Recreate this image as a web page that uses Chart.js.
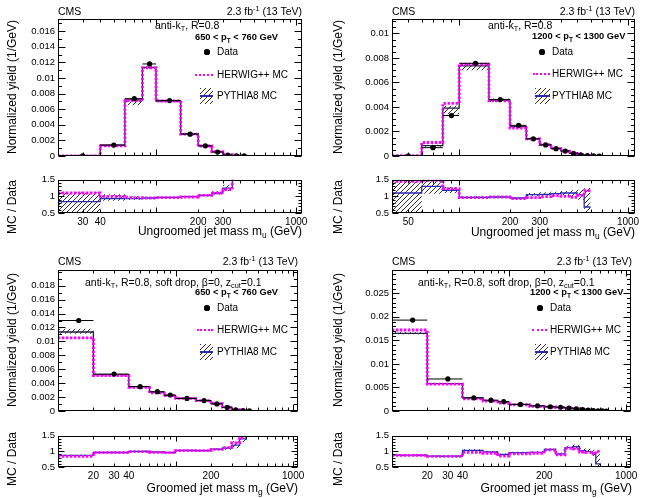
<!DOCTYPE html>
<html lang="en">
<head>
<meta charset="UTF-8">
<title>Jet mass distributions</title>
<script src="https://cdn.jsdelivr.net/npm/chart.js"></script>
<style>
    body { margin: 0; background: #fff; font-family: "Liberation Sans", Arial, Helvetica, sans-serif; }
    #page { position: relative; width: 645px; height: 498px; overflow: hidden; background: #fff; }
    canvas { position: absolute; }
    .t { position: absolute; white-space: nowrap; line-height: 1; color: #000; }
    .t sub { font-size: 70%; vertical-align: -0.35em; line-height: 0; }
    .t sup { font-size: 70%; vertical-align: 0.55em; line-height: 0; }
    .sym { position: absolute; }
</style>
</head>
<body>
<div id="page"></div>
<script>
    // ---- panel 1 : ungroomed, 650 < pT < 760 GeV
    const p1Edges = [20, 40, 60, 80, 100, 150, 200, 250, 300, 350, 400, 450];
    const p1Data = [0.00001, 0.0014, 0.00735, 0.0118, 0.0071, 0.0028, 0.0013, 0.0005, 0.00012, 0.00002, 0.00001];
    const p1DataErr = [0.00001, 0.00006, 0.00012, 0.00018, 0.0001, 0.00006, 0.00004, 0.00003, 0.00002, 0.00001, 0.00001];
    const p1Herwig = [0.00001, 0.0013, 0.0071, 0.0113, 0.00705, 0.0028, 0.00128, 0.00055, 0.00016, 0.00004, 0];
    const p1Pythia = [0.00001, 0.0014, 0.0072, 0.01135, 0.00705, 0.00285, 0.0013, 0.00057, 0.0002, 0.00005, 0];
    const p1BandLo = [0, 0.00122, 0.0065, 0.0112, 0.0069, 0.0027, 0.00124, 0.00053, 0.00017, 0.00003, 0];
    const p1BandHi = [0.00002, 0.00142, 0.00728, 0.01155, 0.0072, 0.0029, 0.00136, 0.0006, 0.00023, 0.00006, 0];
    const p1RatioHerwig = [1.1, 1.0, 0.96, 0.95, 0.96, 0.98, 1.03, 1.1, 1.2, 3];
    const p1RatioPythia = [0.84, 0.93, 0.93, 0.95, 0.97, 0.99, 1.03, 1.1, 1.25, 3];
    const p1RatioLo = [0.4, 0.87, 0.9, 0.93, 0.95, 0.97, 1.0, 1.05, 1.15, 3];
    const p1RatioHi = [1.12, 1.06, 1.0, 0.98, 0.99, 1.01, 1.06, 1.15, 1.35, 3];
    const p1YTicks = [0, 0.002, 0.004, 0.006, 0.008, 0.01, 0.012, 0.014, 0.016];
    const p1XLabels = [30, 40, 200, 300, 1000];

    // ---- panel 2 : ungroomed, 1200 < pT < 1300 GeV
    const p2Edges = [40, 60, 80, 100, 150, 200, 250, 300, 350, 400, 450, 500, 550, 600, 650, 700];
    const p2Data = [0.00002, 0.00068, 0.0033, 0.00756, 0.0046, 0.0025, 0.0014, 0.0009, 0.0006, 0.0004, 0.00022, 0.0001, 0.00004, 0.00001, 0];
    const p2DataErr = [0.00002, 0.00006, 0.00012, 0.00015, 0.0001, 0.00007, 0.00005, 0.00004, 0.00003, 0.00003, 0.00002, 0.00002, 0.00001, 0.00001, 0];
    const p2Herwig = [0.00002, 0.0011, 0.0043, 0.0075, 0.0045, 0.00227, 0.0014, 0.00092, 0.0006, 0.0004, 0.00022, 0.00011, 0.00005, 0.00001, 0];
    const p2Pythia = [0.00002, 0.00085, 0.0039, 0.00735, 0.00455, 0.0024, 0.0014, 0.00093, 0.00063, 0.00043, 0.00024, 0.0001, 0.00003, 0.00001, 0];
    const p2BandLo = [0, 0.00075, 0.0034, 0.007, 0.0044, 0.00232, 0.00133, 0.00088, 0.00059, 0.0004, 0.00022, 0.00009, 0.00002, 0, 0];
    const p2BandHi = [0.00004, 0.00092, 0.0041, 0.00755, 0.0047, 0.00248, 0.00147, 0.00098, 0.00067, 0.00046, 0.00027, 0.00012, 0.00004, 0.00002, 0];
    const p2RatioHerwig = [1.45, 1.48, 1.23, 0.96, 0.98, 0.93, 0.96, 0.99, 1.02, 1.0, 0.97, 1.03, 1.17];
    const p2RatioPythia = [1.1, 1.3, 1.18, 0.97, 0.98, 0.95, 1.05, 1.06, 1.08, 1.1, 1.1, 1.05, 0.68];
    const p2RatioLo = [0.4, 1.08, 1.1, 0.94, 0.96, 0.92, 1.0, 1.0, 1.02, 1.03, 1.0, 0.9, 0.5];
    const p2RatioHi = [1.6, 1.55, 1.28, 1.0, 1.0, 0.98, 1.1, 1.12, 1.14, 1.16, 1.18, 1.2, 1.25];
    const p2YTicks = [0, 0.002, 0.004, 0.006, 0.008, 0.01];
    const p2XLabels = [50, 200, 300, 1000];

    // ---- panel 3 : groomed, 650 < pT < 760 GeV
    const p3Edges = [10, 20, 40, 60, 80, 100, 150, 200, 250, 300, 350, 400, 450];
    const p3Data = [0.013, 0.0053, 0.0035, 0.00277, 0.0023, 0.0018, 0.0015, 0.00102, 0.00051, 0.00015, 0.00004, 0.00001];
    const p3DataErr = [0.00008, 0.00006, 0.00005, 0.00005, 0.00004, 0.00003, 0.00003, 0.00003, 0.00002, 0.00001, 0.00001, 0.00001];
    const p3Herwig = [0.0105, 0.0051, 0.0034, 0.0026, 0.0022, 0.00182, 0.00148, 0.00106, 0.00055, 0.0002, 0.00006, 0];
    const p3Pythia = [0.01135, 0.00523, 0.0035, 0.0027, 0.0022, 0.00184, 0.0015, 0.00108, 0.00055, 0.00018, 0.00005, 0];
    const p3BandLo = [0.0111, 0.0051, 0.00342, 0.00264, 0.00214, 0.0018, 0.00146, 0.00104, 0.00051, 0.00015, 0.00003, 0];
    const p3BandHi = [0.0118, 0.00535, 0.00358, 0.00276, 0.00226, 0.00188, 0.00154, 0.00112, 0.00059, 0.00022, 0.00007, 0];
    const p3RatioHerwig = [0.84, 0.96, 0.99, 0.97, 0.96, 1.02, 1.02, 1.06, 1.12, 1.27, 1.45];
    const p3RatioPythia = [0.87, 0.97, 1.0, 0.98, 0.96, 1.03, 1.02, 1.07, 1.1, 1.2, 1.4];
    const p3RatioLo = [0.85, 0.95, 0.98, 0.96, 0.94, 1.01, 1.0, 1.05, 1.05, 1.1, 1.3];
    const p3RatioHi = [0.89, 0.99, 1.02, 1.0, 0.98, 1.05, 1.04, 1.09, 1.15, 1.32, 1.6];
    const p3YTicks = [0, 0.002, 0.004, 0.006, 0.008, 0.01, 0.012, 0.014, 0.016, 0.018];
    const p3XLabels = [20, 30, 40, 200, 1000];

    // ---- panel 4 : groomed, 1200 < pT < 1300 GeV
    const p4Edges = [10, 20, 40, 60, 80, 100, 150, 200, 250, 300, 350, 400, 450, 500, 550, 600, 650, 700];
    const p4Data = [0.0193, 0.0068, 0.0028, 0.0023, 0.002, 0.0014, 0.0011, 0.0009, 0.0008, 0.0006, 0.00045, 0.0003, 0.0002, 0.0001, 0.00005, 0.00001, 0];
    const p4DataErr = [0.0003, 0.00012, 0.00008, 0.00007, 0.00007, 0.00005, 0.00004, 0.00004, 0.00003, 0.00003, 0.00002, 0.00002, 0.00002, 0.00001, 0.00001, 0.00001, 0];
    const p4Herwig = [0.0172, 0.0057, 0.0026, 0.0021, 0.0017, 0.0013, 0.001, 0.00085, 0.0007, 0.00062, 0.00048, 0.0003, 0.0002, 0.0001, 0.00004, 0.00001, 0];
    const p4Pythia = [0.0165, 0.0058, 0.0028, 0.0022, 0.0018, 0.0014, 0.0011, 0.0009, 0.00075, 0.00068, 0.0005, 0.00032, 0.00021, 0.0001, 0.00003, 0.00001, 0];
    const p4BandLo = [0.0163, 0.0057, 0.00273, 0.00214, 0.00175, 0.00136, 0.00107, 0.00087, 0.00072, 0.00065, 0.00047, 0.0003, 0.00019, 0.00009, 0.00002, 0, 0];
    const p4BandHi = [0.0167, 0.0059, 0.00287, 0.00226, 0.00185, 0.00144, 0.00113, 0.00093, 0.00078, 0.00071, 0.00053, 0.00034, 0.00023, 0.00011, 0.00004, 0.00002, 0];
    const p4RatioHerwig = [0.87, 0.84, 0.97, 0.94, 0.85, 0.92, 0.94, 1.05, 0.89, 1.1, 1.08, 0.98, 0.97, 0.92, 1.0];
    const p4RatioPythia = [0.88, 0.85, 1.03, 0.98, 0.9, 0.96, 0.97, 1.06, 0.92, 1.12, 1.15, 1.02, 1.0, 0.95, 0.6];
    const p4RatioLo = [0.86, 0.83, 1.0, 0.95, 0.87, 0.93, 0.94, 1.03, 0.89, 1.07, 1.08, 0.95, 0.92, 0.85, 0.5];
    const p4RatioHi = [0.9, 0.87, 1.07, 1.01, 0.93, 0.99, 1.0, 1.09, 0.96, 1.18, 1.22, 1.1, 1.08, 1.05, 1.0];
    const p4YTicks = [0, 0.005, 0.01, 0.015, 0.02, 0.025];
    const p4XLabels = [20, 30, 40, 200, 1000];

    const ratioYTicks = [0.5, 1, 1.5];

    const Y_AXIS_W = 50, PAD_T = 8, PAD_B = 8, PAD_R = 12, X_AXIS_H = 16;
    const FONT = '"Liberation Sans", Arial, Helvetica, sans-serif';
    const MAGENTA = '#ff00ff';
    const page = document.getElementById('page');

    function fmt(v) { return String(+v.toFixed(4)); }

    // step histogram points: bin i value placed at its left edge, plus a closing point
    function histPts(edges, vals) {
        const pts = vals.map((v, i) => ({ x: edges[i], y: v }));
        pts.push({ x: edges[vals.length], y: vals[vals.length - 1] });
        return pts;
    }
    function centerPts(edges, vals) {
        return vals.map((v, i) => ({ x: (edges[i] + edges[i + 1]) / 2, y: v }));
    }
    function errPts(edges, vals, errs) {
        const pts = [];
        vals.forEach((v, i) => {
            const c = (edges[i] + edges[i + 1]) / 2;
            pts.push({ x: edges[i], y: v }, { x: edges[i + 1], y: v }, { x: edges[i + 1], y: null });
            pts.push({ x: c, y: v - errs[i] }, { x: c, y: v + errs[i] }, { x: c, y: null });
        });
        return pts;
    }

    function hatch(color) {
        const c = document.createElement('canvas');
        c.width = c.height = 5;
        const g = c.getContext('2d');
        g.strokeStyle = color;
        g.lineWidth = 1;
        g.beginPath();
        g.moveTo(0, 5); g.lineTo(5, 0);
        g.moveTo(-1, 1); g.lineTo(1, -1);
        g.moveTo(4, 6); g.lineTo(6, 4);
        g.stroke();
        return g.createPattern(c, 'repeat');
    }

    // frame + inward ROOT-style ticks on all four sides
    const frameTicks = {
        id: 'frameTicks',
        afterDatasetsDraw(chart, args, o) {
            const { ctx, chartArea: a } = chart;
            const x = chart.scales.x, y = chart.scales.y;
            const L = Math.round(a.left) + 0.5, R = Math.round(a.right) - 0.5;
            const T = Math.round(a.top) + 0.5, B = Math.round(a.bottom) - 0.5;
            ctx.save();
            ctx.strokeStyle = '#000';
            ctx.lineWidth = 1;
            ctx.beginPath();
            for (let d = 1; d <= 10000; d *= 10) {
                for (let m = 1; m <= 9; m++) {
                    const v = m * d;
                    if (v < x.min || v > x.max) continue;
                    const px = Math.round(x.getPixelForValue(v)) + 0.5;
                    const len = m === 1 ? o.xMajor : o.xMinor;
                    ctx.moveTo(px, B); ctx.lineTo(px, B - len);
                    ctx.moveTo(px, T); ctx.lineTo(px, T + len);
                }
            }
            for (let k = 0; ; k++) {
                const v = y.min + k * o.yStep;
                if (v > y.max + 1e-12) break;
                const py = Math.round(y.getPixelForValue(v)) + 0.5;
                const major = o.yTicks.some(t => Math.abs(t - v) < o.yStep / 10);
                const len = major ? o.yMajor : o.yMinor;
                ctx.moveTo(L, py); ctx.lineTo(L + len, py);
                ctx.moveTo(R, py); ctx.lineTo(R - len, py);
            }
            ctx.stroke();
            ctx.strokeRect(L, T, R - L, B - T);
            ctx.restore();
        }
    };

    function makeChart(box, isRatio, xmin, xmax, ymin, ymax, yTicks, yStep, xLabels, datasets) {
        const cv = document.createElement('canvas');
        const W = Y_AXIS_W + box.w + PAD_R;
        const H = PAD_T + box.h + PAD_B + (isRatio ? X_AXIS_H : 0);
        cv.width = W; cv.height = H;
        cv.style.left = (box.x - Y_AXIS_W) + 'px';
        cv.style.top = (box.y - PAD_T) + 'px';
        page.appendChild(cv);
        new Chart(cv.getContext('2d'), {
            type: 'line',
            data: { datasets },
            options: {
                responsive: false,
                animation: false,
                events: [],
                layout: { padding: { left: 0, right: PAD_R, top: PAD_T, bottom: PAD_B } },
                plugins: {
                    legend: { display: false },
                    tooltip: { enabled: false },
                    frameTicks: isRatio
                        ? { xMajor: 5, xMinor: 3, yStep, yTicks, yMajor: 6, yMinor: 3 }
                        : { xMajor: 6, xMinor: 3, yStep, yTicks, yMajor: 7, yMinor: 3.5 }
                },
                scales: {
                    x: {
                        type: 'logarithmic',
                        min: xmin, max: xmax,
                        display: isRatio,
                        grid: { display: false, drawTicks: false },
                        border: { display: false },
                        afterBuildTicks: s => { s.ticks = xLabels.map(v => ({ value: v })); },
                        afterFit: s => { s.height = X_AXIS_H; },
                        ticks: {
                            autoSkip: false, maxRotation: 0, padding: 3, color: '#000',
                            font: { family: FONT, size: 10 },
                            callback: v => String(v)
                        }
                    },
                    y: {
                        type: 'linear',
                        min: ymin, max: ymax,
                        grid: { display: false, drawTicks: false },
                        border: { display: false },
                        afterBuildTicks: s => { s.ticks = yTicks.map(v => ({ value: v })); },
                        afterFit: s => { s.width = Y_AXIS_W; },
                        ticks: {
                            padding: 3, color: '#000',
                            font: { family: FONT, size: 9.5 },
                            callback: v => fmt(v)
                        }
                    }
                }
            },
            plugins: [frameTicks]
        });
    }

    function lineDs(pts, color, width, dash) {
        return {
            data: pts, stepped: 'before', borderColor: color, borderWidth: width,
            borderDash: dash || [], pointRadius: 0, fill: false, spanGaps: false
        };
    }

    function buildPanel(p) {
        const pat = hatch(p.hatchColor);
        const dataSets = [
            { data: centerPts(p.edges, p.data), showLine: false, pointRadius: 2.6,
              pointBackgroundColor: '#000', pointBorderWidth: 0 },
            { data: errPts(p.edges, p.data, p.dataErr), borderColor: '#000', borderWidth: 1,
              pointRadius: 0, spanGaps: false, fill: false },
            lineDs(histPts(p.edges, p.herwig), MAGENTA, 2.8, [2.4, 1.6]),
            lineDs(histPts(p.edges, p.pythia), p.pythiaMainColor, 1.3),
            lineDs(histPts(p.edges, p.bandLo), 'rgba(0,0,0,0)', 1),
            Object.assign(lineDs(histPts(p.edges, p.bandHi), 'rgba(0,0,0,0)', 1), { fill: '-1', backgroundColor: pat })
        ];
        makeChart(p.main, false, p.edges[0], 1100, 0, p.ymax, p.yTicks, p.yStep, p.xLabels, dataSets);

        const re = p.edges.slice(0, p.rHerwig.length + 1);
        const ratioSets = [
            lineDs(histPts(re, p.rHerwig), MAGENTA, 2.8, [2.4, 1.6]),
            lineDs(histPts(re, p.rPythia), '#2b2bb0', 1.3),
            lineDs(histPts(re, p.rLo), 'rgba(0,0,0,0)', 1),
            Object.assign(lineDs(histPts(re, p.rHi), 'rgba(0,0,0,0)', 1), { fill: '-1', backgroundColor: pat })
        ];
        makeChart(p.ratio, true, p.edges[0], 1100, 0.5, 1.5, ratioYTicks, 0.1, p.xLabels, ratioSets);
    }

    buildPanel({ main: { x: 58, y: 18, w: 244, h: 154 }, ratio: { x: 58, y: 179, w: 244, h: 34 },
        edges: p1Edges, data: p1Data, dataErr: p1DataErr, herwig: p1Herwig, pythia: p1Pythia,
        bandLo: p1BandLo, bandHi: p1BandHi, rHerwig: p1RatioHerwig, rPythia: p1RatioPythia,
        rLo: p1RatioLo, rHi: p1RatioHi, ymax: 0.0176, yTicks: p1YTicks, yStep: 0.001,
        xLabels: p1XLabels, hatchColor: '#333', pythiaMainColor: '#1e1e3c' });
    buildPanel({ main: { x: 392, y: 18, w: 243, h: 154 }, ratio: { x: 392, y: 179, w: 243, h: 34 },
        edges: p2Edges, data: p2Data, dataErr: p2DataErr, herwig: p2Herwig, pythia: p2Pythia,
        bandLo: p2BandLo, bandHi: p2BandHi, rHerwig: p2RatioHerwig, rPythia: p2RatioPythia,
        rLo: p2RatioLo, rHi: p2RatioHi, ymax: 0.0112, yTicks: p2YTicks, yStep: 0.0005,
        xLabels: p2XLabels, hatchColor: '#333', pythiaMainColor: '#1e1e3c' });
    buildPanel({ main: { x: 58, y: 269, w: 240, h: 158 }, ratio: { x: 58, y: 435, w: 240, h: 32 },
        edges: p3Edges, data: p3Data, dataErr: p3DataErr, herwig: p3Herwig, pythia: p3Pythia,
        bandLo: p3BandLo, bandHi: p3BandHi, rHerwig: p3RatioHerwig, rPythia: p3RatioPythia,
        rLo: p3RatioLo, rHi: p3RatioHi, ymax: 0.0203, yTicks: p3YTicks, yStep: 0.001,
        xLabels: p3XLabels, hatchColor: '#2a2a66', pythiaMainColor: '#1e1e3c' });
    buildPanel({ main: { x: 392, y: 269, w: 239, h: 158 }, ratio: { x: 392, y: 435, w: 239, h: 32 },
        edges: p4Edges, data: p4Data, dataErr: p4DataErr, herwig: p4Herwig, pythia: p4Pythia,
        bandLo: p4BandLo, bandHi: p4BandHi, rHerwig: p4RatioHerwig, rPythia: p4RatioPythia,
        rLo: p4RatioLo, rHi: p4RatioHi, ymax: 0.03, yTicks: p4YTicks, yStep: 0.001,
        xLabels: p4XLabels, hatchColor: '#2a2a66', pythiaMainColor: '#1e1e3c' });

    // ---- text and legend overlays
    function put(html, x, y, anchor, size, bold) {
        const d = document.createElement('div');
        d.className = 't';
        d.innerHTML = html;
        d.style.left = x + 'px';
        d.style.top = y + 'px';
        d.style.fontSize = size + 'px';
        if (bold) d.style.fontWeight = 'bold';
        if (anchor === 'r') d.style.transform = 'translate(-100%,-50%)';
        else if (anchor === 'rot') d.style.transform = 'translate(-50%,-50%) rotate(-90deg)';
        else d.style.transform = 'translate(0,-50%)';
        page.appendChild(d);
    }
    function sym(css) {
        const d = document.createElement('div');
        d.className = 'sym';
        d.style.cssText += css;
        page.appendChild(d);
        return d;
    }
    function legend(dotX, dashX1, dashX2, boxX1, boxX2, textX, yData, yHerwig, yPythia, hatchCol) {
        sym(`left:${dotX - 2.6}px;top:${yData - 2.6}px;width:5.2px;height:5.2px;border-radius:50%;background:#000;`);
        put('Data', textX, yData, 'l', 10);
        sym(`left:${dashX1}px;top:${yHerwig - 1.3}px;width:${dashX2 - dashX1}px;height:0;border-top:2.6px dotted ${MAGENTA};`);
        put('HERWIG++ MC', textX, yHerwig, 'l', 10);
        const b = sym(`left:${boxX1}px;top:${yPythia - 8}px;width:${boxX2 - boxX1}px;height:16px;` +
            `background:repeating-linear-gradient(135deg, ${hatchCol} 0 1px, transparent 1px 3.6px);`);
        const l = document.createElement('div');
        l.style.cssText = 'position:absolute;left:0;right:0;top:7.3px;height:1.4px;background:#2b2bb0;';
        b.appendChild(l);
        put('PYTHIA8 MC', textX, yPythia, 'l', 10);
    }

    const LUMI = '2.3 fb<sup>-1</sup> (13 TeV)';
    const AKT = 'anti-k<sub>T</sub>, R=0.8';
    const AKT_SD = 'anti-k<sub>T</sub>, R=0.8, soft drop, &beta;=0, z<sub>cut</sub>=0.1';
    const YT = 'Normalized yield (1/GeV)';
    const RT = 'MC / Data';
    const ANN = 10.5, PT = 9.3, TITLE = 12;

    // panel 1
    put('CMS', 58, 10.5, 'l', 10.5);
    put(LUMI, 302, 10.5, 'r', 10.5);
    put(AKT, 155, 25, 'l', ANN);
    put('650 &lt; p<sub>T</sub> &lt; 760 GeV', 195, 38, 'l', PT, true);
    legend(207, 195, 213, 200, 213, 217, 52, 75, 96, '#333');
    put(YT, 12, 87, 'rot', TITLE);
    put(RT, 12, 207, 'rot', TITLE);
    put('Ungroomed jet mass m<sub>u</sub> (GeV)', 302, 231, 'r', TITLE);

    // panel 2
    put('CMS', 392, 10.5, 'l', 10.5);
    put(LUMI, 635, 10.5, 'r', 10.5);
    put(AKT, 488, 25, 'l', ANN);
    put('1200 &lt; p<sub>T</sub> &lt; 1300 GeV', 532, 37, 'l', PT, true);
    legend(542, 533, 550, 535, 550, 552, 52, 74, 96, '#333');
    put(YT, 338, 87, 'rot', TITLE);
    put(RT, 338, 207, 'rot', TITLE);
    put('Ungroomed jet mass m<sub>u</sub> (GeV)', 635, 232, 'r', TITLE);

    // panel 3
    put('CMS', 58, 261, 'l', 10.5);
    put(LUMI, 298, 261, 'r', 10.5);
    put(AKT_SD, 85, 282, 'l', ANN);
    put('650 &lt; p<sub>T</sub> &lt; 760 GeV', 195, 293, 'l', PT, true);
    legend(207, 197, 213, 200, 213, 217, 308, 330, 352, '#2a2a66');
    put(YT, 12, 340, 'rot', TITLE);
    put(RT, 12, 459, 'rot', TITLE);
    put('Groomed jet mass m<sub>g</sub> (GeV)', 298, 488, 'r', TITLE);

    // panel 4
    put('CMS', 392, 261, 'l', 10.5);
    put(LUMI, 632, 261, 'r', 10.5);
    put(AKT_SD, 418, 282, 'l', ANN);
    put('1200 &lt; p<sub>T</sub> &lt; 1300 GeV', 530, 293, 'l', PT, true);
    legend(540, 532, 547, 535, 548, 550, 308, 330, 352, '#2a2a66');
    put(YT, 338, 340, 'rot', TITLE);
    put(RT, 338, 459, 'rot', TITLE);
    put('Groomed jet mass m<sub>g</sub> (GeV)', 632, 488, 'r', TITLE);
</script>
</body>
</html>
